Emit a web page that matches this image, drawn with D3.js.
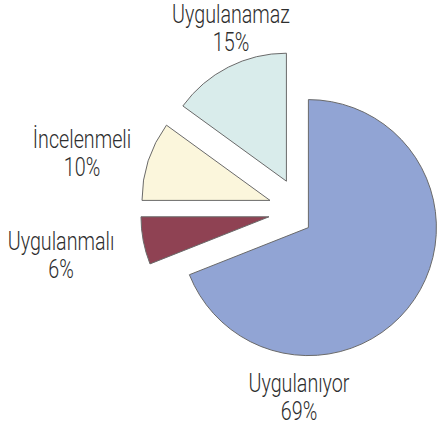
<!DOCTYPE html>
<html>
<head>
<meta charset="utf-8">
<script src="https://cdn.jsdelivr.net/npm/d3@7"></script>
<style>
  html, body { margin: 0; padding: 0; background: #fff; }
  text { font-family: Roboto, "Liberation Sans", sans-serif; font-weight: 300; fill: #2e2e2e; }
</style>
</head>
<body>
<div id="chart"></div>
<script>
const categories = ["Uygulanıyor", "Uygulanmalı", "İncelenmeli", "Uygulanamaz"];
const values = [69, 6, 10, 15];
const colors = ["#91a4d4", "#8f4253", "#fbf6dc", "#d9eceb"];

const width = 437;
const height = 428;
const radius = 128;
const cx = 301.4, cy = 210.6;   // pie centre before explosion
const explode = 33;
const bigShift = [7, 17];       // the large slice is nudged separately

// label anchors (centre x, first baseline)
const labelPos = [[299, 392], [61, 250], [82, 148], [231, 23]];
const lineGap = 28;
const fontSize = 26;

const svg = d3.select("#chart").append("svg")
  .attr("width", width)
  .attr("height", height);

const pie = d3.pie().sort(null).value(d => d.value);
const arcs = pie(categories.map((c, i) => ({ name: c, value: values[i] })));
const arc = d3.arc().innerRadius(0).outerRadius(radius);

svg.selectAll("path.slice")
  .data(arcs)
  .enter().append("path")
  .attr("class", "slice")
  .attr("d", arc)
  .attr("fill", (d, i) => colors[i])
  .attr("stroke", "#6a6a6a")
  .attr("stroke-width", 1)
  .attr("transform", (d, i) => {
    if (i === 0) return `translate(${cx + bigShift[0]},${cy + bigShift[1]})`;
    const a = (d.startAngle + d.endAngle) / 2;
    return `translate(${cx + explode * Math.sin(a)},${cy - explode * Math.cos(a)})`;
  });

// condensed look: squeeze text so "Uygulanamaz" is ~118px wide, as in the source
const probe = svg.append("text").attr("font-size", fontSize).text("Uygulanamaz");
const squeeze = 118 / probe.node().getComputedTextLength();
probe.remove();

const labels = svg.selectAll("g.label")
  .data(arcs)
  .enter().append("g")
  .attr("class", "label")
  .attr("transform", (d, i) => `translate(${labelPos[i][0]},${labelPos[i][1]}) scale(${squeeze},1)`);

labels.append("text")
  .attr("text-anchor", "middle")
  .attr("font-size", fontSize)
  .text(d => d.data.name);

labels.append("text")
  .attr("text-anchor", "middle")
  .attr("font-size", fontSize)
  .attr("y", lineGap)
  .text(d => d.data.value + "%");
</script>
</body>
</html>
